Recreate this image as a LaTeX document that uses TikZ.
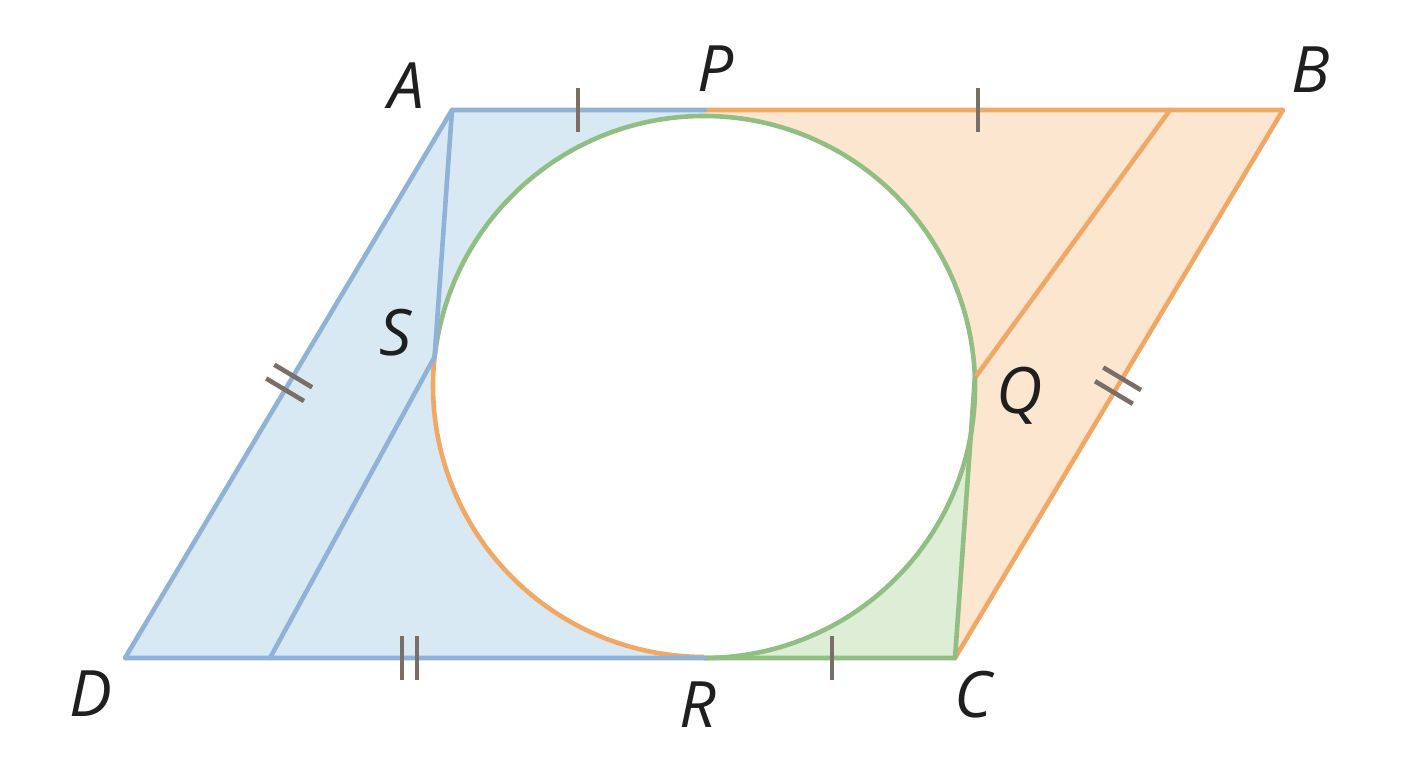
\documentclass[tikz,border=0pt]{standalone}
\usepackage{fontspec}
\setmainfont{Open Sans}
\usetikzlibrary{calc}
\definecolor{bline}{HTML}{8FB2D6}
\definecolor{bfill}{HTML}{D9E9F4}
\definecolor{oline}{HTML}{F0A864}
\definecolor{ofill}{HTML}{FDE6D0}
\definecolor{gline}{HTML}{91BE82}
\definecolor{gfill}{HTML}{DDEDD6}
\definecolor{tickc}{HTML}{7A6F68}
\tikzset{
  bl/.style={draw=bline, line width=4.6pt},
  ol/.style={draw=oline, line width=4.6pt},
  gl/.style={draw=gline, line width=4.6pt},
  tk/.style={draw=tickc, line width=4.6pt, line cap=butt},
  lab/.style={font=\fontsize{64}{64}\selectfont\itshape, text=black!88, inner sep=0pt},
}
\begin{document}
\begin{tikzpicture}[x=1pt,y=1pt,line join=round]
\useasboundingbox (0,0) rectangle (1408,768);
\fill[white] (0,0) rectangle (1408,768);
\coordinate (A) at (452,658);
\coordinate (P) at (705,658);
\coordinate (B) at (1283,658);
\coordinate (F) at (1170,658);
\coordinate (D) at (125,110);
\coordinate (E) at (270,110);
\coordinate (R) at (704,110);
\coordinate (C) at (955,110);
\coordinate (O) at (704,382);
\coordinate (S) at ($(O)+(173.85:271)$);
\coordinate (Q) at ($(O)+(1.7:271)$);
% fills
\fill[bfill] (D) -- (A) -- (P) -- (O) -- (R) -- cycle;
\fill[ofill] (P) -- (B) -- (C) -- (Q) -- (O) -- cycle;
\fill[gfill] (R) -- (C) -- (Q) -- cycle;
\fill[white] (O) circle[radius=271];
% circle arcs
\draw[ol] (S) arc[start angle=173.85, end angle=270, radius=271];
\draw[gl] (R) arc[start angle=-90, end angle=173.85, radius=271];
% edges
\draw[ol, line cap=round] (P) -- (B) -- (C);
\draw[ol, line cap=round] (Q) -- (F);
\draw[gl, line cap=round] (R) -- (C) -- (Q);
\draw[bl, line cap=round] (P) -- (A) -- (D) -- (R);
\draw[bl, line cap=round] (A) -- (S) -- (E);
% ticks
\draw[tk] (578,636) -- (578,680);
\draw[tk] (978,636) -- (978,680);
\draw[tk] (832,88) -- (832,132);
\draw[tk] (402,88) -- (402,132);
\draw[tk] (417,88) -- (417,132);
\path (D) -- (A) coordinate[pos=0.502] (mAD);
\path (C) -- (B) coordinate[pos=0.497] (mBC);
\begin{scope}[shift={(mAD)}, rotate=59.17]
  \draw[tk] (-8,-22) -- (-8,22);
  \draw[tk] (8,-22) -- (8,22);
\end{scope}
\begin{scope}[shift={(mBC)}, rotate=59.1]
  \draw[tk] (-8,-22) -- (-8,22);
  \draw[tk] (8,-22) -- (8,22);
\end{scope}
% labels
\node[lab] (lA) at (406,682) {A};
\node[lab] (lP) at (716,699) {P};
\node[lab] (lB) at (1311,698) {B};
\node[lab] (lS) at (396,435) {S};
\node[lab] (lQ) at (1020,372) {Q};
\node[lab] (lD) at (91,74) {D};
\node[lab] (lR) at (698,63) {R};
\node[lab] (lC) at (973,73) {C};
\end{tikzpicture}
\end{document}
